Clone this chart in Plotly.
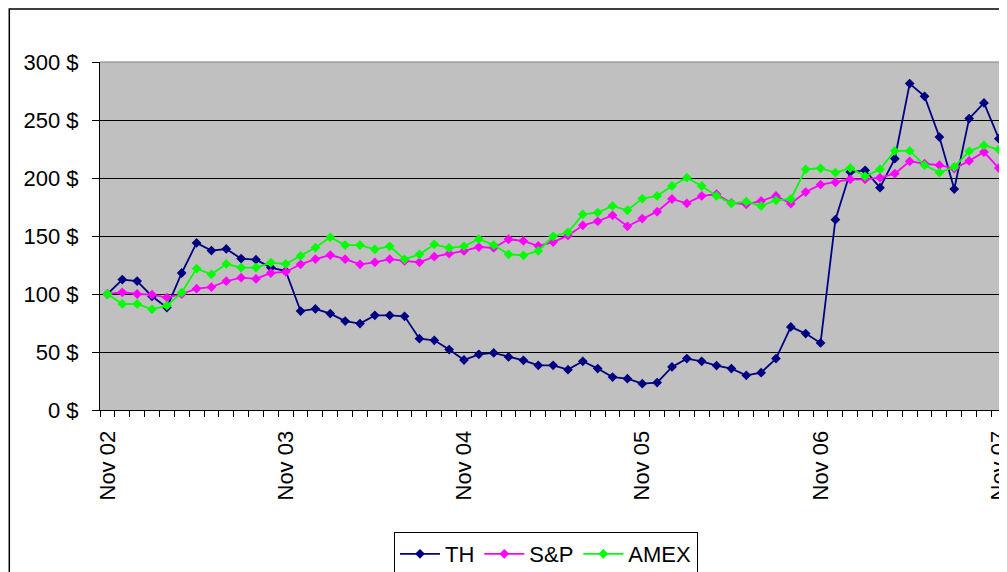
import plotly.graph_objects as go

month_names = ["Nov", "Dec", "Jan", "Feb", "Mar", "Apr", "May", "Jun", "Jul", "Aug", "Sep", "Oct"]
years = ["02", "03", "04", "05", "06", "07"]
categories = []
for k in range(61):
    m = month_names[k % 12]
    y = years[k // 12] if m in ("Nov", "Dec") else years[(k + 10) // 12]
    categories.append(f"{m} {y}")

tick_labels = ["Nov 02", "Nov 03", "Nov 04", "Nov 05", "Nov 06", "Nov 07"]
y_ticks = [0, 50, 100, 150, 200, 250, 300]
y_ticktext = [f"{v} $" for v in y_ticks]

th = [100, 112.4, 111.2, 98, 88.3, 118.1, 144, 137.4, 138.8, 130.5, 129.6, 122.8, 119.8,
      85.3, 87.1, 83.1, 76.7, 74.5, 81.6, 81.6, 80.8, 61.5, 60.1, 52.1, 43.1, 48, 49.2, 45.7, 42.8,
      38.5, 38.5, 34.8, 42, 35.7, 28.4, 27, 22.7, 23.6, 37.1, 44.3, 42, 38.3, 35.7, 29.9,
      32.2, 44.3, 71.6, 65.9, 57.8, 164.1, 205.2, 206.6, 191.7, 216.7, 281.4, 270.4, 235.3,
      190.5, 251.2, 264.7, 233.9]
sp = [100, 101.5, 100, 99.4, 96.9, 100, 104.6, 106, 111, 114.1, 113, 118.1, 119,
      125.6, 130, 133.6, 130, 125.6, 127.3, 130, 128.5, 127.3, 132.2, 134.8, 137.1, 140.5, 139.7, 147.2, 145.7,
      141.4, 144.8, 150.3, 159.2, 162.7, 167.8, 158.4, 165, 171, 181.9, 178.2, 184.5, 186, 178.5, 177.3,
      180.2, 184.5, 177.9, 187.9, 194.3, 196.3, 198.9, 198.9, 200.3, 203.8, 214.4, 212.4, 211,
      208.1, 214.7, 222.4, 208.6]
amex = [100, 91.4, 91.4, 86.8, 90, 101.2, 121.9, 117, 125.9, 122.8, 122.8, 127, 125.9,
        132.8, 140, 148.9, 142.2, 142.2, 138.5, 141.1, 129.9, 134.2, 142.8, 139.7, 141.1, 147.4, 142.2, 134.2, 133.4,
        137.1, 149.7, 153.2, 168.7, 170.2, 175.9, 172.2, 182.2, 184.5, 193.1, 200.3, 193.1, 184.5, 178.2, 179.6,
        175.9, 180.8, 181.9, 207.5, 208.4, 204.7, 208.6, 201.5, 207.5, 223.3, 223.3, 211,
        204.7, 209.5, 223, 228.2, 224.5]

series = [("TH", th, "#000080"), ("S&P", sp, "#FF00FF"), ("AMEX", amex, "#00FF00")]

fig = go.Figure()
for name, vals, col in series:
    fig.add_trace(go.Scatter(
        x=categories, y=vals, name=name, mode="lines+markers",
        line=dict(color=col, width=1.8),
        marker=dict(symbol="diamond", size=7.5, color=col),
    ))

ticktext = [c if c in tick_labels else "" for c in categories]

# page has an 8px body margin; figure is offset accordingly
fig.update_layout(
    width=999, height=564,
    margin=dict(l=92, r=0, t=54, b=162, autoexpand=False),
    paper_bgcolor="white", plot_bgcolor="#C0C0C0",
    font=dict(family="Liberation Sans, Arial, sans-serif", size=22, color="black"),
    showlegend=True,
    legend=dict(orientation="h", x=0.4917, xanchor="center", y=-0.3506, yanchor="top",
                bordercolor="black", borderwidth=1, bgcolor="white",
                font=dict(size=22), itemwidth=40),
    xaxis=dict(type="category", range=[-0.5, 60.55], tickmode="array", automargin=False,
               tickvals=categories, ticktext=ticktext, tickson="boundaries",
               ticks="outside", ticklen=6, tickcolor="black", tickangle=-90,
               ticklabelstandoff=11,
               showgrid=False, showline=True, linecolor="black", linewidth=1,
               tickfont=dict(size=22)),
    yaxis=dict(range=[0, 300], tickmode="array", tickvals=y_ticks, ticktext=y_ticktext,
               automargin=False, ticks="outside", ticklen=7, tickcolor="black",
               ticklabelstandoff=9,
               showgrid=True, gridcolor="black", gridwidth=1, zeroline=False,
               showline=True, linecolor="black", linewidth=1, tickfont=dict(size=22)),
    shapes=[
        dict(type="rect", xref="paper", yref="paper", x0=-0.1, x1=1.02, y0=-0.5, y1=1.152,
             line=dict(color="black", width=1.5), layer="above"),
        dict(type="line", xref="paper", yref="paper", x0=0, x1=1, y0=1, y1=1,
             line=dict(color="#808080", width=1)),
    ],
)

fig.write_html("out.html")
